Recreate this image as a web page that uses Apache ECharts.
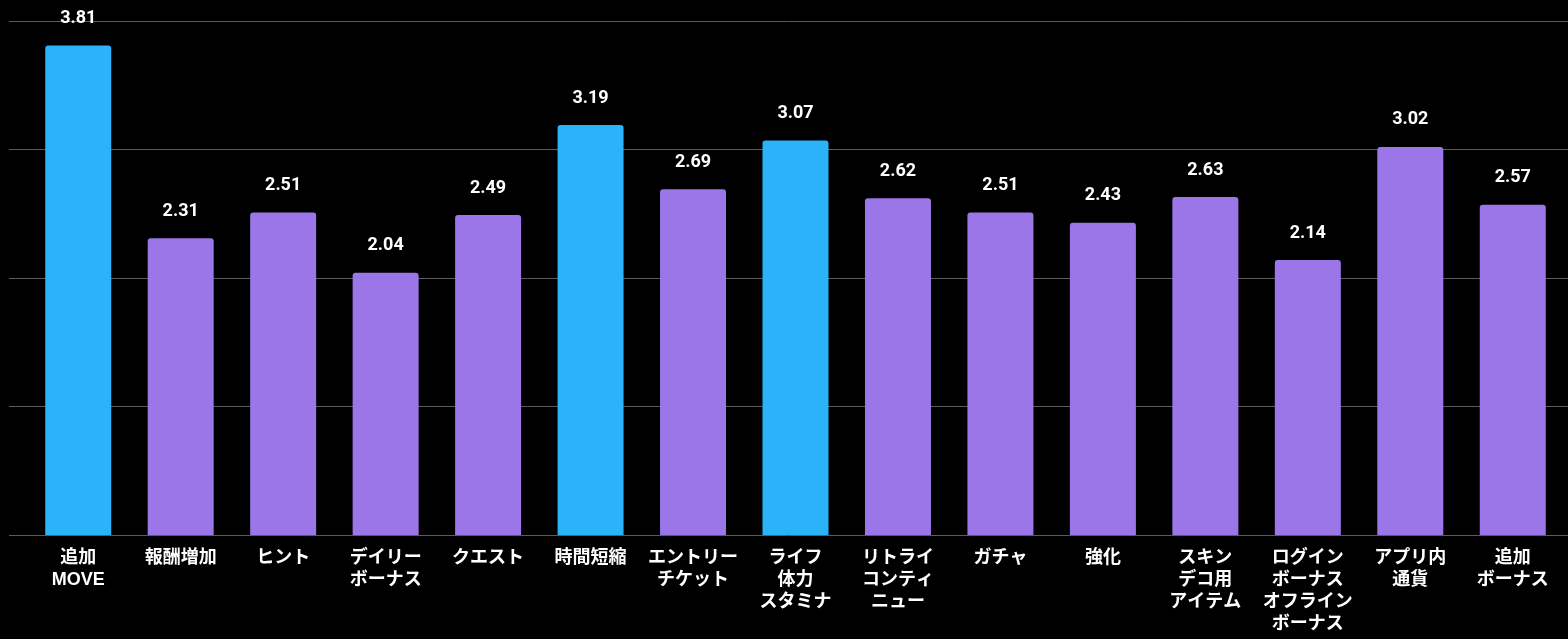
<!DOCTYPE html>
<html>
<head>
<meta charset="utf-8">
<script src="https://cdn.jsdelivr.net/npm/echarts@6/dist/echarts.min.js"></script>
<style>
  html, body { margin: 0; padding: 0; background: #000; }
  #chart { width: 1568px; height: 639px; }
</style>
</head>
<body>
<div id="chart"></div>
<script>
// Item labels (line breaks as shown under each bar)
const categories = [
  '追加\nMOVE', '報酬増加', 'ヒント', 'デイリー\nボーナス', 'クエスト',
  '時間短縮', 'エントリー\nチケット', 'ライフ\n体力\nスタミナ', 'リトライ\nコンティ\nニュー', 'ガチャ',
  '強化', 'スキン\nデコ用\nアイテム', 'ログイン\nボーナス\nオフライン\nボーナス', 'アプリ内\n通貨', '追加\nボーナス'
];
// Score per item
const values = [3.81, 2.31, 2.51, 2.04, 2.49, 3.19, 2.69, 3.07, 2.62, 2.51, 2.43, 2.63, 2.14, 3.02, 2.57];
// Highlighted items (top group)
const highlighted = ['追加\nMOVE', '時間短縮', 'ライフ\n体力\nスタミナ'];
// Value-axis range
const yTicks = [0, 1, 2, 3, 4];

const BLUE = '#2AB3F8';
const PURPLE = '#9A76E9';
const FONT = 'Roboto, "Noto Sans CJK JP", sans-serif';
const CAT_FONT = '"Liberation Sans", "Noto Sans CJK JP", sans-serif';

const chart = echarts.init(document.getElementById('chart'));
chart.setOption({
  backgroundColor: '#000',
  animation: false,
  grid: [
    { left: 9, right: 0, top: 21, bottom: 104 },
    { left: 27, right: 4, top: 21, bottom: 104 }
  ],
  xAxis: [
    { type: 'value', gridIndex: 0, show: false, min: 0, max: 1 },
    {
      type: 'category', gridIndex: 1, data: categories,
      axisLine: { show: false }, axisTick: { show: false },
      axisLabel: {
        interval: 0, color: '#fff', fontFamily: CAT_FONT, fontWeight: 'bold',
        fontSize: 18, lineHeight: 22, margin: 12, verticalAlign: 'top'
      }
    }
  ],
  yAxis: [
    {
      type: 'value', gridIndex: 0, min: yTicks[0], max: yTicks[yTicks.length - 1], interval: 1,
      axisLine: { show: false }, axisTick: { show: false }, axisLabel: { show: false },
      splitLine: { show: true, lineStyle: { color: '#5c5c5c', width: 1 } }
    },
    {
      type: 'value', gridIndex: 1, min: yTicks[0], max: yTicks[yTicks.length - 1], interval: 1,
      show: false, splitLine: { show: false }
    }
  ],
  series: [{
    type: 'bar',
    xAxisIndex: 1, yAxisIndex: 1,
    barWidth: 66,
    data: values.map((v, i) => ({
      value: v,
      itemStyle: { color: highlighted.includes(categories[i]) ? BLUE : PURPLE, borderRadius: [3, 3, 0, 0] }
    })),
    label: {
      show: true, position: 'top', distance: 18,
      color: '#fff', fontFamily: FONT, fontWeight: 'bold', fontSize: 18,
      formatter: p => p.value.toFixed(2)
    }
  }]
});
</script>
</body>
</html>
